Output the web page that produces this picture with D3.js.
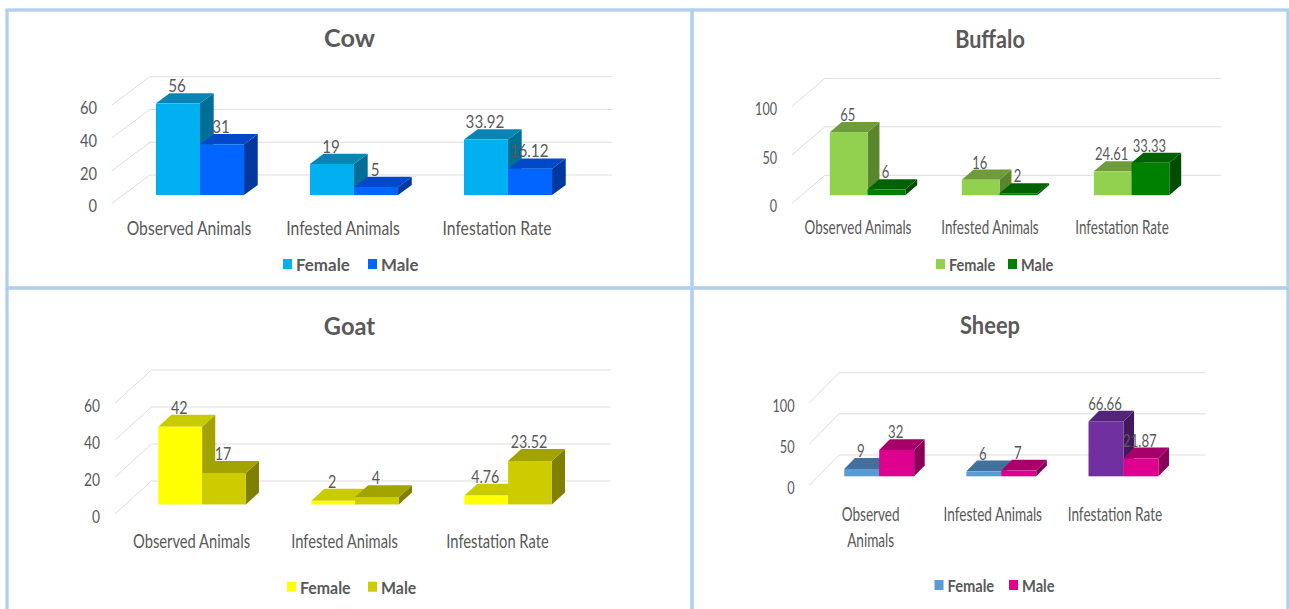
<!DOCTYPE html>
<html>
<head>
<meta charset="utf-8">
<script src="https://cdn.jsdelivr.net/npm/d3@7"></script>
<style>
  html, body { margin: 0; padding: 0; background: #ffffff; }
  svg { display: block; }
  text { font-family: Lato, "Open Sans", sans-serif; fill: #595959; }
</style>
</head>
<body>
<svg id="chart" width="1289" height="609"></svg>
<script>
// ---- data ----
const categories = ["Observed Animals", "Infested Animals", "Infestation Rate"];
const seriesNames = ["Female", "Male"];

const cowFemale = [56, 19, 33.92];
const cowMale = [31, 5, 16.12];
const buffaloFemale = [65, 16, 24.61];
const buffaloMale = [6, 2, 33.33];
const goatFemale = [42, 2, 4.76];
const goatMale = [17, 4, 23.52];
const sheepFemale = [9, 6, 66.66];
const sheepMale = [32, 7, 21.87];

const cowTicks = [0, 20, 40, 60];
const buffaloTicks = [0, 50, 100];
const goatTicks = [0, 20, 40, 60];
const sheepTicks = [0, 50, 100];

// category labels broken over lines where the sheep chart wraps them
const sheepCategoryLines = [["Observed", "Animals"], ["Infested Animals"], ["Infestation Rate"]];

// ---- face colours: [front, top, side] ----
const cowFemaleFill = ["#00B0F0", "#0A84B4", "#006F98"];
const cowMaleFill = ["#0066FF", "#0049C8", "#0038A0"];
const buffaloFemaleFill = ["#92D050", "#6E9C3C", "#5A872C"];
const buffaloMaleFill = ["#008000", "#006200", "#004C00"];
const goatFemaleFill = ["#FFFF00", "#CACA00", "#A3A300"];
const goatMaleFill = ["#CCCC00", "#A2A200", "#7F7F00"];
const sheepFemaleFill = ["#5B9BD5", "#41719C", "#35608A"];
const sheepRateFill = ["#7030A0", "#54247A", "#42195F"];
const sheepMaleFill = ["#DE008E", "#A8006B", "#8A0058"];

// ---- panel layout ----
const panels = [
  {
    title: "Cow", values: [cowFemale, cowMale], ticks: cowTicks,
    fills: [c => cowFemaleFill, c => cowMaleFill],
    box: [7, 10, 692, 288], titleY: 38,
    x0: 112, x1: 574, floor: 203.3, top: 105, dx: 38, dy: -28.3,
    catY: 227.7, legendY: 264, legendX: [283, 368], sx: 0.98
  },
  {
    title: "Buffalo", values: [buffaloFemale, buffaloMale], ticks: buffaloTicks,
    fills: [c => buffaloFemaleFill, c => buffaloMaleFill],
    box: [692, 10, 1288, 288], titleY: 39,
    x0: 792, x1: 1188, floor: 203.3, top: 106.3, dx: 33, dy: -28,
    catY: 226.7, legendY: 264, legendX: [936, 1008], sx: 0.84
  },
  {
    title: "Goat", values: [goatFemale, goatMale], ticks: goatTicks,
    fills: [c => goatFemaleFill, c => goatMaleFill],
    box: [7, 288, 692, 612], titleY: 325,
    x0: 115, x1: 574, floor: 514, top: 403, dx: 36.5, dy: -33,
    catY: 541.7, legendY: 586.7, legendX: [287, 368], sx: 0.92
  },
  {
    title: "Sheep", values: [sheepFemale, sheepMale], ticks: sheepTicks,
    fills: [c => (c === 2 ? sheepRateFill : sheepFemaleFill), c => sheepMaleFill],
    box: [692, 288, 1288, 612], titleY: 325,
    x0: 809.6, x1: 1176, floor: 485, top: 402.7, dx: 29.4, dy: -30,
    catY: 513.3, legendY: 585, legendX: [934.5, 1009], sx: 0.85,
    catLines: sheepCategoryLines, lineGap: 26
  }
];

const svg = d3.select("#chart");
svg.append("rect").attr("width", 1289).attr("height", 609).attr("fill", "#ffffff");

// depth of each bar within the floor (fraction of the full depth offset)
const DEPTH_FRONT = 0.29, DEPTH_BACK = 0.65;
const BAR_FRACTION = 0.286;
// text is drawn slightly taller than wide, like the narrow chart font
const SY = 1.15;

function label(g, x, y, s, sx, sy = SY) {
  return g.append("text")
    .attr("transform", `translate(${x},${y}) scale(${sx},${sy})`)
    .text(s);
}

panels.forEach(p => {
  const g = svg.append("g");
  const [bx0, by0, bx1, by1] = p.box;

  // panel frame
  g.append("rect").attr("x", bx0).attr("y", by0)
    .attr("width", bx1 - bx0).attr("height", by1 - by0)
    .attr("fill", "none").attr("stroke", "#BCD6F2").attr("stroke-width", 3.5);
  g.append("rect").attr("x", bx0).attr("y", by0)
    .attr("width", bx1 - bx0).attr("height", by1 - by0)
    .attr("fill", "none").attr("stroke", "#A3C5EA").attr("stroke-width", 1);

  const x = d3.scaleBand().domain(categories).range([p.x0, p.x1]);
  const yMax = d3.max(p.ticks);
  const y = d3.scaleLinear().domain([0, yMax]).range([p.floor, p.top]);

  // title
  label(g, (bx0 + bx1) / 2, p.titleY, p.title, p.sx * 1.12, 1.05)
    .attr("text-anchor", "middle").attr("dominant-baseline", "central")
    .attr("font-size", 23).attr("font-weight", 700);

  // gridlines: side-wall diagonal then back-wall horizontal
  const grid = g.append("g").attr("fill", "none").attr("stroke", "#DDDDDD").attr("stroke-width", 1);
  p.ticks.forEach(t => {
    const yf = y(t);
    grid.append("path").attr("d", d3.line()([
      [p.x0, yf], [p.x0 + p.dx, yf + p.dy], [p.x1 + p.dx, yf + p.dy]
    ]));
  });

  // tick labels
  p.ticks.forEach(t => {
    label(g, p.x0 - 15, y(t) + 2, String(t), p.sx)
      .attr("text-anchor", "end").attr("dominant-baseline", "central")
      .attr("font-size", 15);
  });

  // category labels
  categories.forEach((c, i) => {
    const cx = x(c) + x.bandwidth() / 2;
    const lines = p.catLines ? p.catLines[i] : [c];
    lines.forEach((ln, j) => {
      label(g, cx, p.catY + j * (p.lineGap || 0), ln, p.sx)
        .attr("text-anchor", "middle").attr("dominant-baseline", "central")
        .attr("font-size", 16);
    });
  });

  // 3D bars
  const barW = x.bandwidth() * BAR_FRACTION;
  const fx = DEPTH_FRONT * p.dx, fy = DEPTH_FRONT * p.dy;
  const bdx = (DEPTH_BACK - DEPTH_FRONT) * p.dx, bdy = (DEPTH_BACK - DEPTH_FRONT) * p.dy;
  const valueLabels = [];

  categories.forEach((c, i) => {
    const center = x(c) + x.bandwidth() / 2;
    p.values.forEach((vals, s) => {
      const v = vals[i];
      const [front, topC, side] = p.fills[s](i);
      const xl = center - barW + s * barW + fx;
      const xr = xl + barW;
      const yt = y(v) + fy;
      const yb = y(0) + fy;
      const poly = pts => g.append("path").attr("d", d3.line()(pts) + "Z");
      poly([[xr, yt], [xr + bdx, yt + bdy], [xr + bdx, yb + bdy], [xr, yb]]).attr("fill", side);
      poly([[xl, yt], [xr, yt], [xr + bdx, yt + bdy], [xl + bdx, yt + bdy]]).attr("fill", topC);
      g.append("rect").attr("x", xl).attr("y", yt)
        .attr("width", barW).attr("height", yb - yt).attr("fill", front);
      valueLabels.push({ x: (xl + xr) / 2 - 1, y: yt + bdy - 1, v });
    });
  });

  valueLabels.forEach(d => {
    label(g, d.x, d.y, String(d.v), p.sx)
      .attr("text-anchor", "middle").attr("font-size", 15.5);
  });

  // legend
  seriesNames.forEach((name, s) => {
    const lx = p.legendX[s];
    g.append("rect").attr("x", lx).attr("y", p.legendY - 5)
      .attr("width", 9).attr("height", 10).attr("fill", p.fills[s](0)[0]);
    label(g, lx + 13, p.legendY, name, p.sx * 1.08, 1.1)
      .attr("dominant-baseline", "central").attr("font-size", 16).attr("font-weight", 700);
  });
});
</script>
</body>
</html>
